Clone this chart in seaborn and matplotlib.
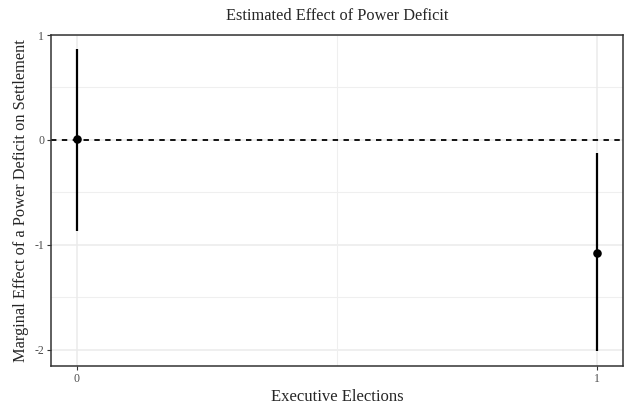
import numpy as np
import pandas as pd
import matplotlib
matplotlib.use("Agg")
import matplotlib.pyplot as plt
import seaborn as sns

# Estimates
elections = [0, 1]
effect = [0.01, -1.08]
ci_low = [-0.87, -2.01]
ci_high = [0.87, -0.12]

df = pd.DataFrame({"elections": elections, "effect": effect,
                   "lo": ci_low, "hi": ci_high})

sns.set_style("white")
plt.rcParams["font.family"] = ["Liberation Serif", "DejaVu Serif"]
plt.rcParams["axes.unicode_minus"] = False

fig = plt.figure(figsize=(6.25, 4.09), dpi=100)
ax = fig.add_axes([0.0816, 0.105, 0.9152, 0.8094])

# grid like theme_bw
for v in [-2, -1, 0, 1]:
    ax.axhline(v, color="#EBEBEB", lw=1.1, zorder=0)
for v in [-1.5, -0.5, 0.5]:
    ax.axhline(v, color="#EFEFEF", lw=0.8, zorder=0)
for v in [0, 1]:
    ax.axvline(v, color="#EBEBEB", lw=1.1, zorder=0)
ax.axvline(0.5, color="#EFEFEF", lw=0.8, zorder=0)

ax.axhline(0, color="black", lw=1.3, ls=(0, (3, 3)), zorder=1)
ax.vlines(df["elections"], df["lo"], df["hi"], color="black", lw=1.6, zorder=2)
sns.scatterplot(data=df, x="elections", y="effect", color="black", s=38,
                edgecolor="black", linewidth=0, zorder=3, ax=ax)

ax.set_xlim(-0.05, 1.05)
ax.set_ylim(-2.154, 1.0)
ax.set_xticks([0, 1])
ax.set_yticks([-2, -1, 0, 1])
ax.set_xticklabels(["0", "1"])
ax.set_yticklabels(["-2", "-1", "0", "1"])
ax.tick_params(axis="both", length=3, width=0.8, color="#333333",
               labelcolor="#4D4D4D", labelsize=8.5, pad=2, direction="out")
ax.tick_params(left=True, bottom=True)
for s in ax.spines.values():
    s.set_color("#333333")
    s.set_linewidth(1.1)

ax.set_xlabel("Executive Elections", fontsize=12, labelpad=3)
ax.set_ylabel("Marginal Effect of a Power Deficit on Settlement", fontsize=11.8, labelpad=4)
ax.set_title("Estimated Effect of Power Deficit", fontsize=11.8, pad=11)

fig.savefig("out.png", dpi=100)
